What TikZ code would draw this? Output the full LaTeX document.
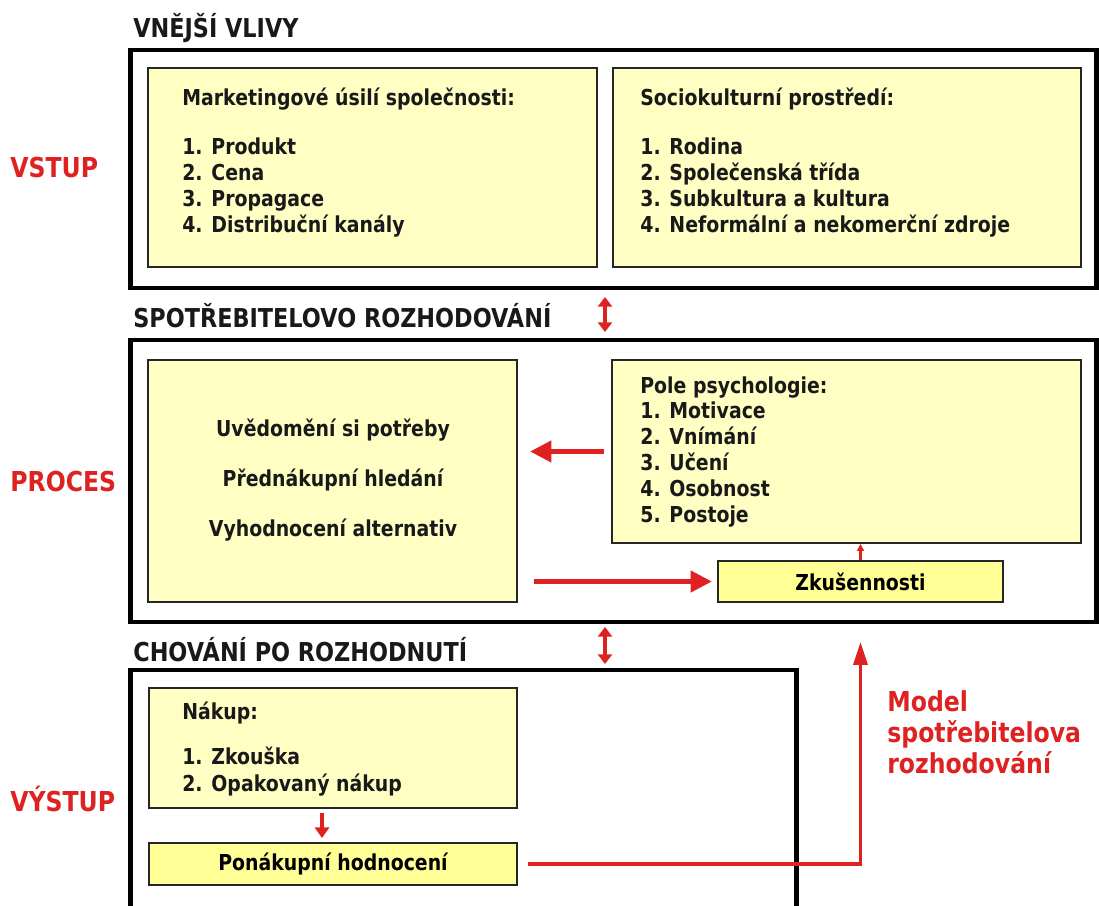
\documentclass[tikz,border=0pt]{standalone}
\usepackage{fontspec}
\setmainfont{DejaVu Sans}[FakeStretch=0.86]
\usetikzlibrary{arrows.meta}
\definecolor{modelred}{RGB}{222,34,34}
\definecolor{paleyellow}{RGB}{255,255,196}
\definecolor{deepyellow}{RGB}{255,255,150}
\def\bodyfont{\bfseries\fontsize{12.5}{14.74}\selectfont}
\def\headfont{\bfseries\fontsize{14.8}{17}\selectfont}
\def\redfont{\bfseries\fontsize{15.6}{17.6}\selectfont}

\begin{document}
\begin{tikzpicture}[x=0.02cm,y=-0.02cm,
    bigframe/.style={draw=black,line width=2.8pt,minimum width=19.34cm,inner sep=0pt},
    ybox/.style={draw=black!85,line width=1.1pt,fill=paleyellow,inner sep=0pt},
    zbox/.style={ybox,fill=deepyellow,font=\bodyfont},
    txt/.style={font=\bodyfont,align=left,inner sep=0pt,text=black!90},
    headtxt/.style={font=\headfont,inner sep=0pt,anchor=base west,text=black!90},
    redtxt/.style={font=\redfont,inner sep=0pt,anchor=base west,text=modelred},
    bigarrow/.style={draw=modelred,line width=2.3pt,-{Triangle[length=12pt,width=12pt]}},
    backarrow/.style={draw=modelred,line width=1.8pt,-{Triangle[length=13pt,width=8pt]}},
    tinyarrow/.style={draw=modelred,line width=1.2pt,-{Triangle[length=4pt,width=4pt]}},
    dblarrow/.style={draw=modelred,line width=2.6pt,{Triangle[length=5.5pt,width=8pt]}-{Triangle[length=5.5pt,width=8pt]}}]
\fill[white] (0,0) rectangle (1099,906);
\useasboundingbox (0,0) rectangle (1099,906);
%
% frames
\node[bigframe,minimum height=4.76cm] at (613.5,169) (vlivy) {};
\node[bigframe,minimum height=5.64cm] at (613.5,481) (rozh) {};
\node[bigframe,minimum width=13.34cm,minimum height=5.2cm] at (463.5,800) (chov) {};
%
\node[headtxt] at (133,37) (h vlivy) {VNĚJŠÍ VLIVY};
\node[headtxt] at (133,327) (h rozh) {SPOTŘEBITELOVO ROZHODOVÁNÍ};
\node[headtxt] at (133,661) (h chov) {CHOVÁNÍ PO ROZHODNUTÍ};
%
\node[redtxt] at (10,177) (vstup) {VSTUP};
\node[redtxt] at (10,491) (proces) {PROCES};
\node[redtxt] at (10,811) (vystup) {VÝSTUP};
%
% yellow boxes
\node[ybox,minimum width=8.98cm,minimum height=3.98cm] at (372.5,167.5) (mark) {};
\node[ybox,minimum width=9.36cm,minimum height=3.98cm] at (847,167.5) (soc) {};
\node[ybox,minimum width=7.38cm,minimum height=4.84cm] at (332.5,481) (proc) {};
\node[ybox,minimum width=9.38cm,minimum height=3.66cm] at (846.5,451.5) (psy) {};
\node[zbox,minimum width=5.7cm,minimum height=0.82cm] at (860.5,581.5) (zk) {Zkušennosti};
\node[ybox,minimum width=7.36cm,minimum height=2.4cm] at (333,748) (nak) {};
\node[zbox,minimum width=7.36cm,minimum height=0.84cm] at (333,864) (pon) {Ponákupní hodnocení};
%
\node[txt,anchor=north west] at (182,88) (mark txt) {Marketingové úsilí společnosti:\\[13pt]1. Produkt\\2. Cena\\3. Propagace\\4. Distribuční kanály};
\node[txt,anchor=north west] at (640,88) (soc txt) {Sociokulturní prostředí:\\[13pt]1. Rodina\\2. Společenská třída\\3. Subkultura a kultura\\4. Neformální a nekomerční zdroje};
\node[txt,align=center,font=\bfseries\fontsize{12.5}{28.3}\selectfont] at (333,480) (proc txt) {Uvědomění si potřeby\\Přednákupní hledání\\Vyhodnocení alternativ};
\node[txt,anchor=north west] at (640,376) (psy txt) {Pole psychologie:\\1. Motivace\\2. Vnímání\\3. Učení\\4. Osobnost\\5. Postoje};
\node[txt,anchor=north west] at (182,702) (nak txt) {Nákup:\\[10.8pt]1. Zkouška\\[0.6pt]2. Opakovaný nákup};
%
\node[font=\redfont,align=left,inner sep=0pt,text=modelred,anchor=north west] at (887,690) (model) {Model\\spotřebitelova\\rozhodování};
%
% arrows
\coordinate (v1) at (605,297);
\coordinate (v2) at (605,332);
\coordinate (v3) at (605,627);
\coordinate (v4) at (605,664);
\draw[dblarrow] (v1) -- (v2);
\draw[dblarrow] (v3) -- (v4);
\draw[bigarrow,shorten <=4pt,shorten >=7pt] (psy.west) -- (psy.west -| proc.east);
\draw[bigarrow,shorten <=9pt,shorten >=3pt] (zk.west -| proc.east) -- (zk.west);
\draw[tinyarrow] (zk.north) -- (zk.north |- psy.south);
\draw[bigarrow,line width=2.6pt,-{Triangle[length=6pt,width=8pt]},shorten <=2.3pt,shorten >=2.3pt] ([xshift=-0.22cm]nak.south) -- ([xshift=-0.22cm]pon.north);
\draw[backarrow,shorten <=6pt,shorten >=10pt] (pon.east) -| (zk.south |- rozh.south);

\end{tikzpicture}
\end{document}
